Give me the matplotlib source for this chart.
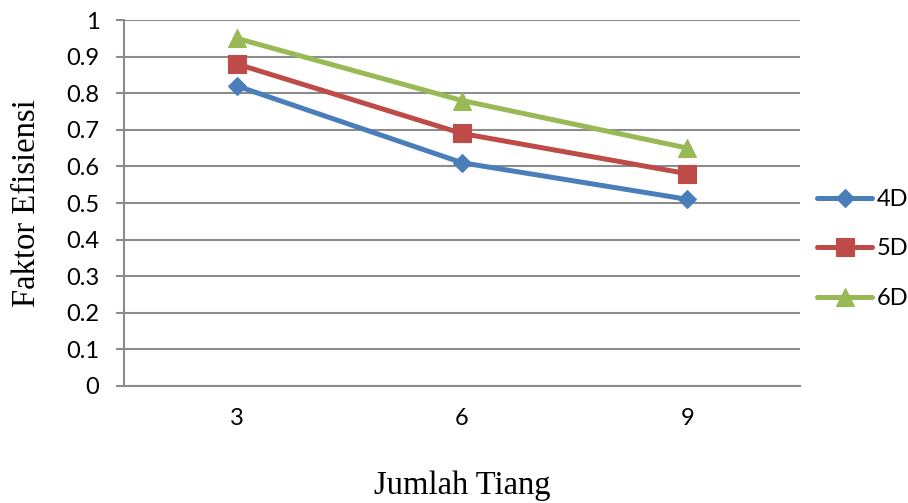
import matplotlib
matplotlib.use("Agg")
import matplotlib.pyplot as plt
from matplotlib.lines import Line2D

categories = ["3", "6", "9"]
series_names = ["4D", "5D", "6D"]
values_4d = [0.82, 0.61, 0.51]
values_5d = [0.88, 0.69, 0.58]
values_6d = [0.95, 0.78, 0.65]
y_ticks = [0, 0.1, 0.2, 0.3, 0.4, 0.5, 0.6, 0.7, 0.8, 0.9, 1]
y_tick_labels = ["0", "0.1", "0.2", "0.3", "0.4", "0.5", "0.6", "0.7", "0.8", "0.9", "1"]

colors = ["#4A7EBB", "#BE4B48", "#98B954"]
markers = ["D", "s", "^"]
msizes = [9, 12.5, 13]

fig = plt.figure(figsize=(9.08, 5.03), dpi=100)
ax = fig.add_axes([124 / 908, 1 - 386 / 503, (800 - 124) / 908, (386 - 20) / 503])

x = list(range(len(categories)))
handles = []
for vals, name, c, m, ms in zip([values_4d, values_5d, values_6d], series_names, colors, markers, msizes):
    ax.plot(x, vals, color=c, lw=3.6, marker=m, ms=ms, mew=0.8,
            solid_capstyle="round", zorder=3)
    handles.append(Line2D([0], [0], color=c, lw=3.6, marker=m, ms=ms, mew=0.8,
                          solid_capstyle="round", label=name))

ax.set_xlim(-0.5, len(categories) - 0.5)
ax.set_ylim(0, 1)
ax.set_xticks(x)
ax.set_xticklabels(categories)
ax.set_yticks(y_ticks)
ax.set_yticklabels(y_tick_labels)

grid_c = "#8C8C8C"
ax.yaxis.grid(True, color=grid_c, lw=1.5)
ax.set_axisbelow(True)
for s in ["top", "right"]:
    ax.spines[s].set_visible(False)
for s in ["left", "bottom"]:
    ax.spines[s].set_color(grid_c)
    ax.spines[s].set_linewidth(1.5)

ax.tick_params(axis="y", length=5.8, width=1.5, color=grid_c, pad=12, labelsize=17)
ax.tick_params(axis="x", length=0, pad=16, labelsize=17)
for lab in ax.get_xticklabels() + ax.get_yticklabels():
    lab.set_fontfamily("Lato")

ax.set_ylabel("Faktor Efisiensi", fontfamily="Liberation Serif", fontsize=23.5, labelpad=17)
ax.set_xlabel("Jumlah Tiang", fontfamily="Liberation Serif", fontsize=23.5, labelpad=30)

leg = fig.legend(handles=handles, loc="center left", bbox_to_anchor=(796 / 908, 1 - 249 / 503),
                 frameon=False, handlelength=2.33, handletextpad=0.17, labelspacing=1.2,
                 prop={"family": "Lato", "size": 17})

fig.savefig("out.png", dpi=100)
